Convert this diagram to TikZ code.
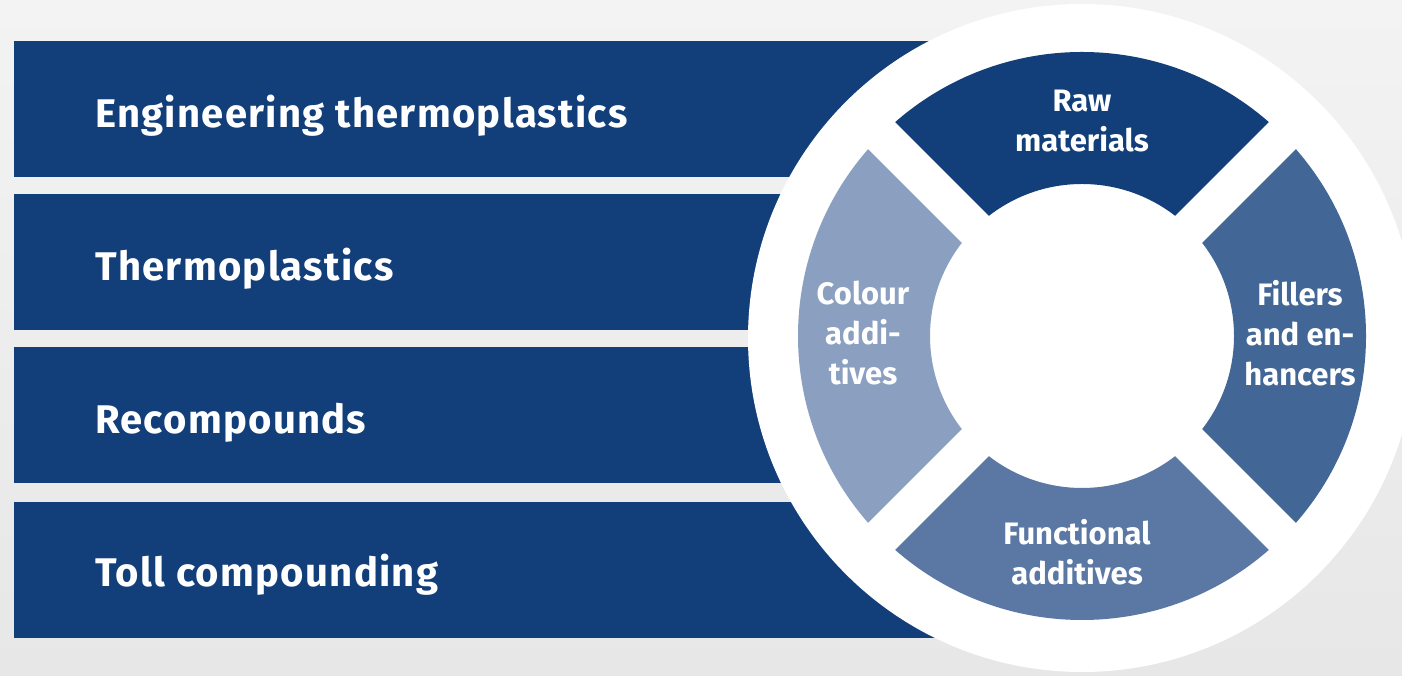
\documentclass[tikz,border=0pt]{standalone}
\usepackage{fontspec}
\setmainfont{Fira Sans}
\usetikzlibrary{calc}
\definecolor{navy}{HTML}{123F7A}
\definecolor{segfill}{HTML}{426796}
\definecolor{segfunc}{HTML}{5B78A4}
\definecolor{segcol}{HTML}{8BA0C0}
\definecolor{bgtop}{HTML}{F3F3F3}
\definecolor{bgbot}{HTML}{E7E7E7}
\begin{document}
\begin{tikzpicture}[x=1pt,y=1pt,
  barbox/.style={rectangle,fill=navy,draw=none,anchor=north west,minimum width=1000pt,minimum height=136pt,inner sep=0pt},
  bartext/.style={text=white,anchor=base west,inner sep=0pt,font=\bfseries\fontsize{40}{48}\selectfont\addfontfeature{LetterSpace=3.2}},
  ringtext/.style={text=white,align=center,inner sep=0pt,font=\bfseries\fontsize{31}{40}\selectfont},
]
\useasboundingbox (0,0) rectangle (1402,676);
\shade[top color=bgtop,bottom color=bgbot] (0,0) rectangle (1402,676);
% bars (image y -> 676-y)
\node[barbox] (b1) at (14,635) {};
\node[barbox] (b2) at (14,482) {};
\node[barbox] (b3) at (14,329) {};
\node[barbox] (b4) at (14,174) {};
\node[bartext] (t1) at (95,548) {Engineering thermoplastics};
\node[bartext] (t2) at (95,395) {Thermoplastics};
\node[bartext] (t3) at (95,242) {Recompounds};
\node[bartext] (t4) at (95,89) {Toll compounding};
% circle
\coordinate (C) at (1082,340);
\fill[white] (1082,338) circle (334);
\def\ro{284}\def\ri{152}
\fill[navy] ($(C)+(45:\ro)$) arc[start angle=45,end angle=135,radius=\ro] -- ($(C)+(135:\ri)$) arc[start angle=135,end angle=45,radius=\ri] -- cycle;
\fill[segcol] ($(C)+(135:\ro)$) arc[start angle=135,end angle=225,radius=\ro] -- ($(C)+(225:\ri)$) arc[start angle=225,end angle=135,radius=\ri] -- cycle;
\fill[segfunc] ($(C)+(225:\ro)$) arc[start angle=225,end angle=315,radius=\ro] -- ($(C)+(315:\ri)$) arc[start angle=315,end angle=225,radius=\ri] -- cycle;
\fill[segfill] ($(C)+(-45:\ro)$) arc[start angle=-45,end angle=45,radius=\ro] -- ($(C)+(45:\ri)$) arc[start angle=45,end angle=-45,radius=\ri] -- cycle;
\fill[white,rotate around={45:(C)}] ($(C)+(-300,-19)$) rectangle ($(C)+(300,19)$);
\fill[white,rotate around={-45:(C)}] ($(C)+(-300,-19)$) rectangle ($(C)+(300,19)$);
% ring labels
\node[ringtext] (raw) at (1082,555) {Raw\\materials};
\node[ringtext] (colour) at (863,343) {Colour\\addi-\\tives};
\node[ringtext] (fillers) at (1300,343) {Fillers\\and en-\\hancers};
\node[ringtext] (func) at (1077,124) {Functional\\additives};
\end{tikzpicture}
\end{document}
